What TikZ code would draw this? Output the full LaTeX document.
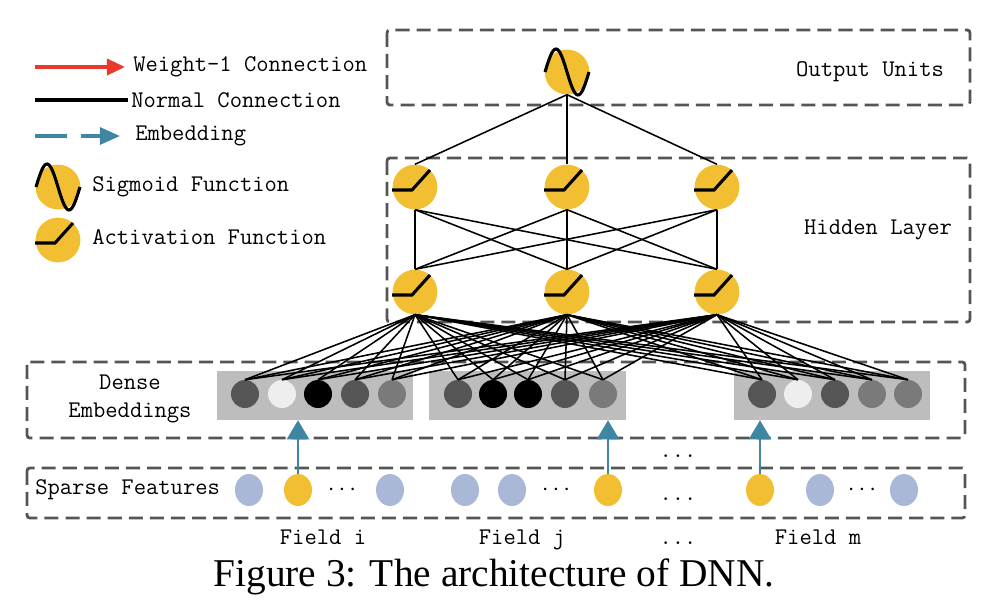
\documentclass[tikz,border=0pt]{standalone}
\usepackage{fontspec}
\newfontfamily\capfont{Liberation Serif}
\usetikzlibrary{shapes}
\usetikzlibrary{arrows.meta}
\usetikzlibrary{positioning}

\definecolor{unityellow}{HTML}{F2BE32}
\definecolor{sparseblue}{HTML}{A9B8D6}
\definecolor{embteal}{HTML}{3E86A2}
\definecolor{boxgray}{HTML}{555555}
\definecolor{wred}{HTML}{E8392C}
\definecolor{embbg}{HTML}{BDBDBD}
\definecolor{embdark}{HTML}{555555}
\definecolor{emblight}{HTML}{EEEEEE}
\definecolor{embmid}{HTML}{7A7A7A}

\tikzset{
  unit/.style={circle, fill=unityellow, minimum size=1.12cm, inner sep=0pt},
  embdot/.style={circle, minimum size=0.7cm, inner sep=0pt},
  sparsedot/.style={ellipse, minimum width=0.7cm, minimum height=0.8cm, inner sep=0pt},
  embgroup/.style={fill=embbg, minimum width=4.9cm, minimum height=1.22cm, inner sep=0pt},
  layerbox/.style={draw=boxgray, line width=2pt, dash pattern=on 10pt off 5pt, rounded corners=2pt},
  conn/.style={line width=1.1pt},
  embarrow/.style={embteal, line width=2pt, -{Triangle[width=0.55cm, length=0.48cm]}},
  lbl/.style={font=\ttfamily\fontsize{17}{20}\selectfont, inner sep=0pt},
  sigmoid/.pic={\draw[line width=2.2pt] plot[domain=-22:22, samples=40, smooth] (\x,{23*sin(\x/44*360)});},
  relu/.pic={\draw[line width=2.2pt] (-23,3) -- (-3,3) -- (15,-17);},
}

\begin{document}
\begin{tikzpicture}[x=0.025cm, y=-0.025cm]
  \useasboundingbox (0,0) rectangle (984,606);

  % legend
  \coordinate (w1) at (35,67);
  \coordinate (w2) at (125,67);
  \coordinate (n1) at (35,100);
  \coordinate (n2) at (128,100);
  \coordinate (m1) at (35,136);
  \coordinate (m2) at (120,136);
  \draw[wred, line width=2.4pt, -{Triangle[width=0.4cm, length=0.45cm]}] (w1) -- (w2);
  \draw[line width=2.4pt] (n1) -- (n2);
  \draw[embteal, line width=2.4pt, dash pattern=on 23pt off 10pt, -{Triangle[width=0.42cm, length=0.5cm]}] (m1) -- (m2);
  \node[lbl, anchor=west] (wtext) at (133,67) {Weight-1 Connection};
  \node[lbl, anchor=west] (ntext) at (131,100) {Normal Connection};
  \node[lbl, anchor=west] (mtext) at (135,136) {Embedding};
  \node[unit] (ls) at (58,187) {};
  \pic at (ls) {sigmoid};
  \node[lbl, anchor=west] (stext) at (92,187) {Sigmoid Function};
  \node[unit] (la) at (58,240) {};
  \pic at (la) {relu};
  \node[lbl, anchor=west] (atext) at (92,237) {Activation Function};

  % layer boxes
  \draw[layerbox] (387,30) rectangle (970,105);
  \node[lbl] (outlbl) at (870,72) {Output Units};
  \draw[layerbox] (387,158) rectangle (970,322);
  \node[lbl] (hidlbl) at (878,230) {Hidden Layer};
  \draw[layerbox] (27,362) rectangle (965,438);
  \node[lbl, align=center] (denselbl) at (130,399) {Dense\\Embeddings};
  \draw[layerbox] (27,468) rectangle (965,518);
  \node[lbl, anchor=west] (sparselbl) at (35,490) {Sparse Features};

  % units
  \node[unit] (o) at (567,72) {};
  \foreach \i/\x in {1/415, 2/567, 3/717} {
    \node[unit] (t\i) at (\x,187) {};
    \node[unit] (b\i) at (\x,292) {};
  }

  % embeddings
  \node[embgroup] (g1) at (315,395.5) {};
  \node[embgroup] (g2) at (527.5,395.5) {};
  \node[embgroup] (g3) at (832,395.5) {};
  \foreach \j/\x/\c in {1/245/embdark, 2/282/emblight, 3/318/black, 4/355/embdark, 5/392/embmid,
                        6/458/embdark, 7/493/black, 8/528/black, 9/565/embdark, 10/603/embmid,
                        11/762/embdark, 12/798/emblight, 13/835/embdark, 14/872/embmid, 15/908/embmid}
    \node[embdot, fill=\c] (e\j) at (\x,394) {};

  % connections
  \foreach \i in {1,2,3}
    \draw[conn] (o.south) -- (t\i.north);
  \foreach \i in {1,2,3}
    \foreach \j in {1,2,3}
      \draw[conn] (t\i.south) -- (b\j.north);
  \foreach \i in {1,2,3}
    \foreach \j in {1,...,15}
      \draw[conn] (b\i.south) -- (e\j.north);

  \pic at (o) {sigmoid};
  \foreach \i in {1,2,3} {
    \pic at (t\i) {relu};
    \pic at (b\i) {relu};
  }

  % sparse features
  \foreach \k/\x/\c in {1/249/sparseblue, 2/298/unityellow, 3/390/sparseblue,
                        4/465/sparseblue, 5/512/sparseblue, 6/608/unityellow,
                        7/760/unityellow, 8/820/sparseblue, 9/904/sparseblue}
    \node[sparsedot, fill=\c] (s\k) at (\x,490) {};
  \node[lbl] (d1) at (342,490) {$\cdots$};
  \node[lbl] (d2) at (556,490) {$\cdots$};
  \node[lbl] (d3) at (862,490) {$\cdots$};
  \node[lbl, anchor=base] (d4) at (678,500) {...};
  \node[lbl, anchor=base] (d5) at (678,457) {...};

  \draw[embarrow] (s2.north) -- (s2.north |- g1.south);
  \draw[embarrow] (s6.north) -- (s6.north |- g2.south);
  \draw[embarrow] (s7.north) -- (s7.north |- g3.south);

  % fields
  \node[lbl, anchor=base] (fi) at (323,544) {Field i};
  \node[lbl, anchor=base] (fj) at (522,544) {Field j};
  \node[lbl, anchor=base] (fd) at (678,544) {...};
  \node[lbl, anchor=base] (fm) at (818,544) {Field m};

  \node[font=\capfont\fontsize{28}{32}\selectfont, inner sep=0pt] (cap) at (494,577) {Figure 3: The architecture of DNN.};
\end{tikzpicture}
\end{document}
